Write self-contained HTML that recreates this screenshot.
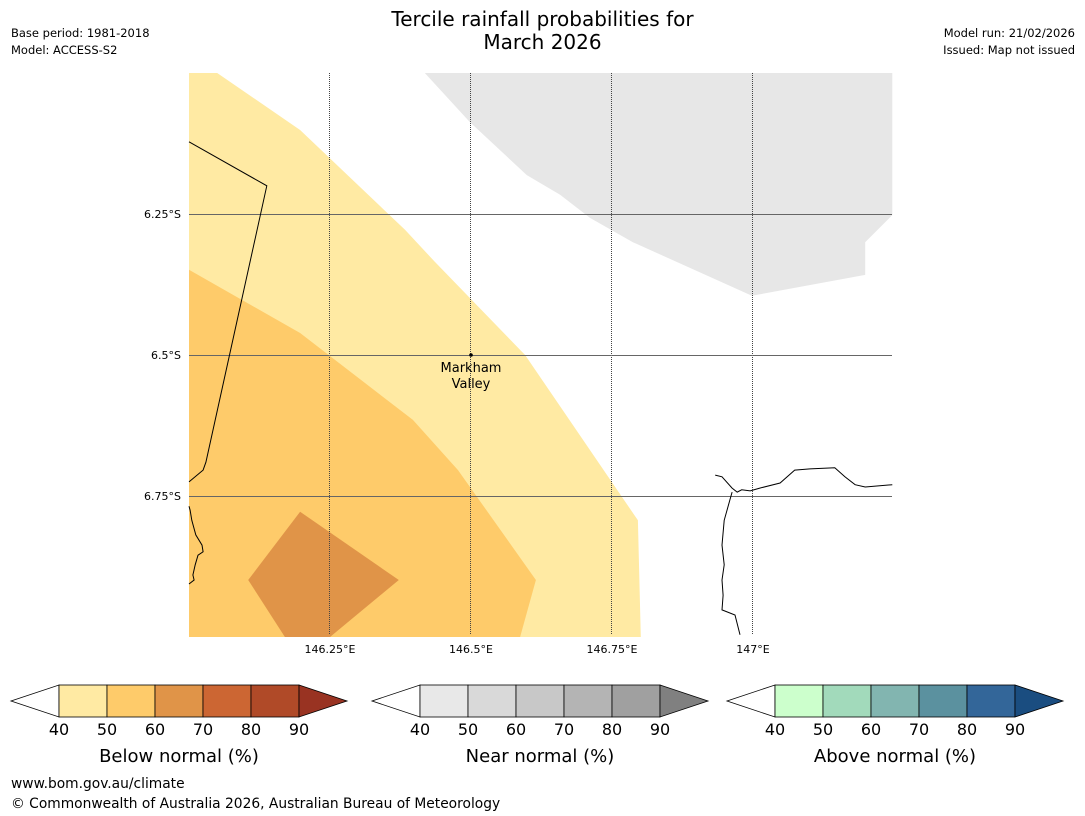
<!DOCTYPE html>
<html><head><meta charset="utf-8"><style>
body{margin:0;background:#fff;font-family:"DejaVu Sans",sans-serif;}
#wrap{position:relative;width:1085px;height:816px;overflow:hidden;background:#fff;}
.t{position:absolute;font-size:12px;color:#000;white-space:nowrap;font-family:"DejaVu Sans",sans-serif;}
</style></head><body>
<div id="wrap">
<div class="t" style="left:0;width:1085px;text-align:center;top:8px;font-size:20px;line-height:23px;">Tercile rainfall probabilities for<br>March 2026</div>
<div class="t" style="left:11px;top:26px;font-size:11.5px;">Base period: 1981-2018</div>
<div class="t" style="left:11px;top:43px;font-size:11.5px;">Model: ACCESS-S2</div>
<div class="t" style="right:10px;top:26px;text-align:right;font-size:11.5px;">Model run: 21/02/2026</div>
<div class="t" style="right:10px;top:43px;text-align:right;font-size:11.5px;">Issued: Map not issued</div>
<div class="t" style="left:11px;top:776px;font-size:13.8px;">www.bom.gov.au/climate</div>
<div class="t" style="left:11px;top:796px;font-size:13.8px;">© Commonwealth of Australia 2026, Australian Bureau of Meteorology</div>
<svg id="svg" width="1085" height="816" style="position:absolute;left:0;top:0"></svg>
</div>
<script>
// map extents
const lonMin=146.0, latMin=6.0, scale=564;
const lonTicks=[146.25,146.5,146.75,147.0];
const lonLabels=["146.25°E","146.5°E","146.75°E","147°E"];
const latTicks=[6.25,6.5,6.75];
const latLabels=["6.25°S","6.5°S","6.75°S"];
// probability regions (lon, lat°S)
const belowLon40=[146.0,146.05,146.197,146.383,146.436,146.596,146.796,146.801,146.0];
const belowLat40=[6.0,6.0,6.101,6.278,6.335,6.5,6.793,7.0,7.0];
const belowLon50=[146.0,146.197,146.397,146.477,146.615,146.587,146.0];
const belowLat50=[6.349,6.461,6.615,6.704,6.899,7.0,7.0];
const belowLon60=[146.197,146.372,146.25,146.17,146.105];
const belowLat60=[6.778,6.899,7.0,7.0,6.899];
const maskLon=[146.418,146.498,146.599,146.658,146.711,146.787,146.998,147.199,147.199,147.247,147.247];
const maskLat=[6.0,6.087,6.181,6.216,6.257,6.3,6.395,6.358,6.3,6.252,6.0];
const borderLon=[146.0,146.138,146.03,146.025,146.0];
const borderLat=[6.122,6.2,6.69,6.704,6.725];
const coastLon=[146.933,146.945,146.963,146.972,146.98,146.995,147.012,147.048,147.074,147.101,147.145,147.163,147.181,147.199,147.247];
const coastLat=[6.713,6.716,6.736,6.743,6.739,6.741,6.736,6.727,6.704,6.702,6.7,6.716,6.73,6.734,6.73];
const coast2Lon=[146.963,146.959,146.949,146.945,146.949,146.945,146.947,146.945,146.968,146.977];
const coast2Lat=[6.743,6.757,6.793,6.837,6.872,6.899,6.926,6.952,6.961,6.996];
const coast3Lon=[146.0,146.002,146.005,146.012,146.023,146.025,146.016,146.011,146.007,146.009,146.0];
const coast3Lat=[6.768,6.775,6.793,6.819,6.837,6.849,6.855,6.872,6.89,6.899,6.906];
const belowCols=["#ffeaa3","#fecb6a","#e09448","#cc6633","#b04a28","#993322"];
const nearCols=["#e8e8e8","#d9d9d9","#c8c8c8","#b4b4b4","#a0a0a0","#808080"];
const aboveCols=["#ccffcc","#a2dabb","#82b5b0","#5b919f","#336699","#1a4d80"];
const barTicks=[40,50,60,70,80,90];

const NS="http://www.w3.org/2000/svg";
const svg=document.getElementById('svg');
const X=l=>189+(l-lonMin)*scale, Y=l=>73+(l-latMin)*scale;
function mk(t,a){const e=document.createElementNS(NS,t);for(const k in a)e.setAttribute(k,a[k]);svg.appendChild(e);return e;}
function pts(lo,la){return lo.map((v,i)=>X(v).toFixed(1)+","+Y(la[i]).toFixed(1)).join(" ");}
let e;
e=mk('rect',{x:189,y:73,width:703,height:562,fill:'#fff'});


e=mk('polygon',{points:pts(maskLon,maskLat),fill:'#e7e7e7'});


e=mk('polygon',{points:pts(belowLon40,belowLat40),fill:belowCols[0]});


e=mk('polygon',{points:pts(belowLon50,belowLat50),fill:belowCols[1]});


e=mk('polygon',{points:pts(belowLon60,belowLat60),fill:belowCols[2]});


lonTicks.forEach((l,i)=>{
 const x=Math.round(X(l))-0.5;
 e=mk('line',{x1:x,x2:x,y1:73,y2:635,stroke:'#444','stroke-width':1,'stroke-dasharray':'1,1'});
 
 
 e=mk('text',{x:X(l),y:653,'font-size':11,'text-anchor':'middle','font-family':'DejaVu Sans,sans-serif'});e.textContent=lonLabels[i];
 
 
});
latTicks.forEach((l,i)=>{
 const y=Math.round(Y(l))+0.5;
 e=mk('line',{x1:189,x2:892,y1:y,y2:y,stroke:'#666','stroke-width':1});
 
 
 e=mk('text',{x:181,y:Y(l)+4,'font-size':11,'text-anchor':'end','font-family':'DejaVu Sans,sans-serif'});e.textContent=latLabels[i];
 
 
});
[[borderLon,borderLat,'border-line'],[coastLon,coastLat,'coastline-north'],[coast2Lon,coast2Lat,'coastline-east'],[coast3Lon,coast3Lat,'coastline-west']].forEach(c=>{
 e=mk('polyline',{points:pts(c[0],c[1]),fill:'none',stroke:'#000','stroke-width':1});
 
 
});
e=mk('circle',{cx:X(146.5),cy:Y(6.5),r:1.8,fill:'#000'});


e=mk('text',{x:X(146.5),y:372,'font-size':13,'text-anchor':'middle','font-family':'DejaVu Sans,sans-serif'});e.textContent='Markham';


e=mk('text',{x:X(146.5),y:388,'font-size':13,'text-anchor':'middle','font-family':'DejaVu Sans,sans-serif'});e.textContent='Valley';


// colour bars
function bar(x0,cols,title,name){
 const w=48,y0=685,h=32;
 e=mk('polygon',{points:`${x0},${y0+h/2} ${x0+w},${y0} ${x0+w},${y0+h}`,fill:'#fff',stroke:'#000','stroke-width':0.8});
 
 
 for(let i=0;i<5;i++){
  e=mk('rect',{x:x0+w*(i+1),y:y0,width:w,height:h,fill:cols[i],stroke:'#000','stroke-width':0.8});
  
  
 }
 e=mk('polygon',{points:`${x0+w*6},${y0} ${x0+w*7},${y0+h/2} ${x0+w*6},${y0+h}`,fill:cols[5],stroke:'#000','stroke-width':0.8});
 
 
 barTicks.forEach((t,i)=>{
  e=mk('text',{x:x0+w*(i+1),y:735,'font-size':16,'text-anchor':'middle','font-family':'DejaVu Sans,sans-serif'});e.textContent=t;
  
  
 });
 e=mk('text',{x:x0+w*3.5,y:762,'font-size':18,'text-anchor':'middle','font-family':'DejaVu Sans,sans-serif'});e.textContent=title;
 
 
}
bar(11,belowCols,'Below normal (%)','below-colorbar');
bar(372,nearCols,'Near normal (%)','near-colorbar');
bar(727,aboveCols,'Above normal (%)','above-colorbar');
</script>
</body></html>
